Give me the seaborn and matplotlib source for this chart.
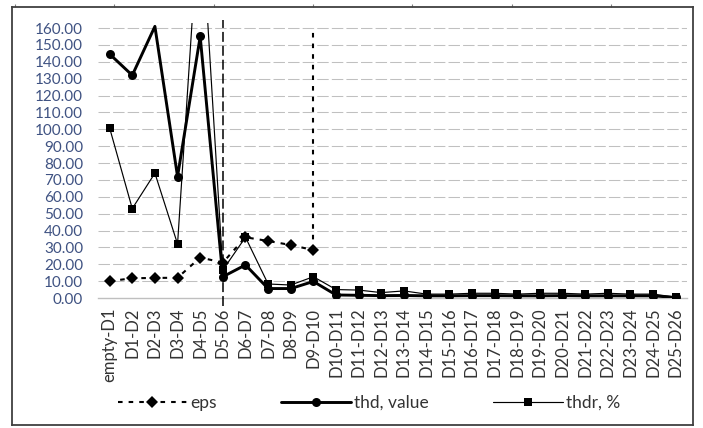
import numpy as np
import pandas as pd
import matplotlib
matplotlib.use("Agg")
import matplotlib.pyplot as plt
import seaborn as sns

categories = ["empty-D1", "D1-D2", "D2-D3", "D3-D4", "D4-D5", "D5-D6", "D6-D7",
              "D7-D8", "D8-D9", "D9-D10", "D10-D11", "D11-D12", "D12-D13",
              "D13-D14", "D14-D15", "D15-D16", "D16-D17", "D17-D18", "D18-D19",
              "D19-D20", "D20-D21", "D21-D22", "D22-D23", "D23-D24", "D24-D25",
              "D25-D26"]
eps = [10.0, 11.7, 11.9, 12.0, 24.0, 21.0, 36.0, 33.8, 31.4, 28.4] + [np.nan] * 16
thd_value = [144.6, 132.0, 161.0, 72.0, 155.0, 12.6, 19.6, 5.6, 5.6, 9.8, 1.8,
             1.6, 1.4, 1.5, 1.3, 1.3, 1.4, 1.4, 1.3, 1.3, 1.4, 1.3, 1.3, 1.3,
             1.3, 0.3]
thdr_pct = [100.8, 53.0, 74.0, 32.0, 237.0, 16.6, 36.0, 8.3, 7.7, 12.6, 5.0,
            4.7, 3.2, 4.2, 2.3, 2.3, 2.8, 2.8, 2.3, 2.8, 2.8, 2.3, 2.8, 2.3,
            2.3, 0.5]
yticks = np.arange(0, 161, 10)

sns.set_style("white")
plt.rcParams['font.family'] = ['Lato', 'DejaVu Sans']

W, H = 703, 428
fig = plt.figure(figsize=(W / 100, H / 100), dpi=100)

# outer frame with small outside stubs
frame = fig.add_axes([12 / W, 1 - 425 / H, (693 - 12) / W, (425 - 6.5) / H])
frame.set_xlim(0, 681)
frame.set_ylim(418.5, 0)
frame.set_facecolor("none")
for s in frame.spines.values():
    s.set_color("#404040")
    s.set_linewidth(1.3)
frame.xaxis.set_ticks_position("top")
frame.set_xticks(np.arange(3, 681, 99.3))
frame.set_yticks(np.arange(111.5, 418, 28.2))
frame.tick_params(axis="both", direction="out", length=2.5, width=0.8,
                  color="#808080", labelleft=False, labeltop=False,
                  labelbottom=False)

ax = fig.add_axes([98.3 / W, 1 - 298 / H, (687 - 98.3) / W, (298 - 23) / H])
ax.set_facecolor("none")

df = pd.DataFrame({"x": np.arange(len(categories)), "cat": categories,
                   "eps": eps, "thd": thd_value, "thdr": thdr_pct})

thd_marks = [i for i in range(len(categories)) if i != 2]

sns.lineplot(data=df, x="x", y="thdr", ax=ax, color="black", linewidth=0.85,
             marker="s", markersize=5.5, markeredgewidth=0, label="thdr, %",
             zorder=3)
sns.lineplot(data=df, x="x", y="thd", ax=ax, color="black", linewidth=2.1,
             marker="o", markersize=6.5, markeredgewidth=0, label="thd, value",
             markevery=thd_marks, zorder=4)
sns.lineplot(data=df.dropna(), x="x", y="eps", ax=ax, color="black",
             linewidth=1.5, linestyle=(0, (2.2, 2.9)), marker="D",
             markersize=6.5, markeredgewidth=0, label="eps", zorder=5)

ax.set_xlim(-0.5, len(categories) - 0.5)
ax.set_ylim(0, 163)

# vertical reference lines
i_d56 = categories.index("D5-D6")
i_d910 = categories.index("D9-D10")
ax.vlines(i_d56, -5, 164.7, color="black", linewidth=1.1,
          linestyles=[(0, (6.5, 2.6))], clip_on=False, zorder=6)
ax.vlines(i_d910, eps[i_d910], yticks[-1], color="black", linewidth=1.5,
          linestyles=[(0, (2.2, 2.9))], zorder=6)

# grid
for yv in yticks[1:]:
    ax.axhline(yv, color="#c0c0c0", linewidth=0.75,
               linestyle=(0, (11, 3)), zorder=1)

for side in ["top", "right", "left"]:
    ax.spines[side].set_visible(False)
ax.spines["bottom"].set_color("#bfbfbf")
ax.spines["bottom"].set_linewidth(1.0)

ax.set_yticks(yticks)
ax.set_yticklabels([f"{v:.2f}" for v in yticks], color="#3f5282", fontsize=11)
ax.set_xticks(df["x"])
ax.set_xticklabels(categories, rotation=90, color="#333333", fontsize=12)
ax.tick_params(axis="y", length=0, pad=11)
ax.tick_params(axis="x", length=0, pad=7)
ax.set_xlabel("")
ax.set_ylabel("")

handles, labels = ax.get_legend_handles_labels()
order = [labels.index("eps"), labels.index("thd, value"), labels.index("thdr, %")]
ax.get_legend().remove()
fig.legend([handles[i] for i in order], [labels[i] for i in order],
           loc="center", bbox_to_anchor=(369 / W, 1 - 403 / H), ncol=3,
           frameon=False, fontsize=12.5, handlelength=4.0, handletextpad=0.2,
           columnspacing=3.7, labelcolor="#333333")

fig.savefig("out.png", dpi=100)
